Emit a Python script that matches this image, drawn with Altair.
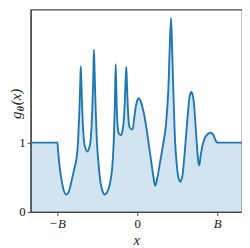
import altair as alt
import pandas as pd

# curve (x in units of B, y = g_theta(x))
x_vals = [-1.33, -1.10, -1.010, -1.000, -0.988, -0.975, -0.957, -0.938, -0.914, -0.889, -0.864, -0.840,
          -0.815, -0.790, -0.765, -0.747, -0.735, -0.722, -0.710, -0.704, -0.698, -0.685,
          -0.673, -0.654, -0.623, -0.593, -0.574, -0.562, -0.549, -0.540, -0.531, -0.519,
          -0.506, -0.494, -0.475, -0.457, -0.432, -0.407, -0.383, -0.358, -0.333, -0.315,
          -0.302, -0.290, -0.278, -0.268, -0.259, -0.247, -0.228, -0.201, -0.179, -0.160,
          -0.146, -0.136, -0.126, -0.111, -0.093, -0.062, -0.037, -0.012, 0.016, 0.043,
          0.068, 0.090, 0.117, 0.148, 0.179, 0.204, 0.226, 0.253, 0.284, 0.321,
          0.349, 0.370, 0.389, 0.405, 0.423, 0.438, 0.451, 0.463, 0.475, 0.494,
          0.515, 0.540, 0.562, 0.586, 0.611, 0.636, 0.658, 0.679, 0.700, 0.722,
          0.741, 0.759, 0.774, 0.796, 0.821, 0.852, 0.889, 0.930, 0.957, 0.981,
          1.000, 1.010, 1.10, 1.31]
y_vals = [1.00, 1.00, 1.00, 1.00, 0.88, 0.72, 0.55, 0.42, 0.30, 0.25, 0.27, 0.35,
          0.47, 0.60, 0.72, 0.88, 1.10, 1.45, 1.90, 2.10, 1.90, 1.45,
          1.15, 0.95, 0.87, 0.95, 1.15, 1.45, 1.90, 2.34, 2.00, 1.50,
          1.10, 0.85, 0.60, 0.42, 0.30, 0.25, 0.27, 0.33, 0.45, 0.60,
          0.80, 1.10, 1.60, 2.13, 1.70, 1.30, 1.13, 1.11, 1.20, 1.45,
          1.85, 2.09, 1.80, 1.40, 1.22, 1.19, 1.35, 1.55, 1.64, 1.60,
          1.50, 1.39, 1.20, 0.95, 0.70, 0.50, 0.375, 0.50, 0.70, 0.95,
          1.15, 1.40, 1.75, 2.30, 2.80, 2.30, 1.80, 1.35, 1.00, 0.70,
          0.50, 0.435, 0.50, 0.75, 1.10, 1.45, 1.68, 1.73, 1.65, 1.38,
          1.05, 0.78, 0.67, 0.83, 0.98, 1.08, 1.13, 1.14, 1.10, 1.03,
          1.00, 1.00, 1.00, 1.00]

x_ticks = [-1, 0, 1]
x_tick_labels = ["\u2212B", "0", "B"]
y_ticks = [0, 1]
y_title_parts = ["g", "\u03b8", "(x)"]

df = pd.DataFrame({"x": x_vals, "y": y_vals})

FONT = "Liberation Serif"
BLUE = "#1f77b4"
TXT = "#222"

label_expr = "datum.value == -1 ? '%s' : (datum.value == 1 ? '%s' : '%s')" % (
    x_tick_labels[0], x_tick_labels[2], x_tick_labels[1])

x_enc = alt.X("x:Q",
              scale=alt.Scale(domain=[-1.33, 1.31], nice=False, zero=False),
              axis=alt.Axis(values=x_ticks, labelExpr=label_expr, title="x",
                            titleFontStyle="italic", titleFontWeight="normal",
                            titleFontSize=15, titlePadding=2,
                            labelFontStyle={"condition": {"test": "datum.value == 0", "value": "normal"}, "value": "italic"}))
y_enc = alt.Y("y:Q",
              scale=alt.Scale(domain=[0, 2.92], nice=False),
              axis=alt.Axis(values=y_ticks, format="d", title=None))

base = alt.Chart(df)
area = base.mark_area(color=BLUE, opacity=0.2, interpolate="catmull-rom").encode(x=x_enc, y=y_enc)
line = base.mark_line(color=BLUE, strokeWidth=1.9, interpolate="catmull-rom").encode(x="x:Q", y="y:Q")

# y-axis title g_theta(x), built from pieces (subscript theta)
t_g = alt.Chart(pd.DataFrame({"t": [y_title_parts[0]]})).mark_text(
    angle=270, align="left", baseline="alphabetic", font=FONT, fontSize=15,
    fontStyle="italic", color=TXT).encode(x=alt.value(-10), y=alt.value(111), text="t:N")
t_th = alt.Chart(pd.DataFrame({"t": [y_title_parts[1]]})).mark_text(
    angle=270, align="left", baseline="alphabetic", font=FONT, fontSize=10,
    fontStyle="italic", fontWeight="bold", color=TXT).encode(x=alt.value(-7), y=alt.value(103), text="t:N")
t_x = alt.Chart(pd.DataFrame({"t": [y_title_parts[2]]})).mark_text(
    angle=270, align="left", baseline="alphabetic", font=FONT, fontSize=15,
    fontStyle="italic", color=TXT).encode(x=alt.value(-10), y=alt.value(97), text="t:N")

chart = alt.layer(area, line, t_g, t_th, t_x).properties(
    width=214, height=205,
    autosize=alt.AutoSizeParams(type="none"),
    padding={"left": 23, "top": 0, "right": 0, "bottom": 35},
).configure_view(
    stroke="#444", strokeWidth=1.2
).configure_axis(
    grid=False, domainColor="#444", domainWidth=1.2, tickColor="#444", tickSize=3.5,
    tickWidth=1, labelFont=FONT, titleFont=FONT, labelFontSize=13, labelColor=TXT,
    titleColor=TXT, labelPadding=2
)

chart.save("out.html", embed_options={"renderer": "svg", "actions": False})
